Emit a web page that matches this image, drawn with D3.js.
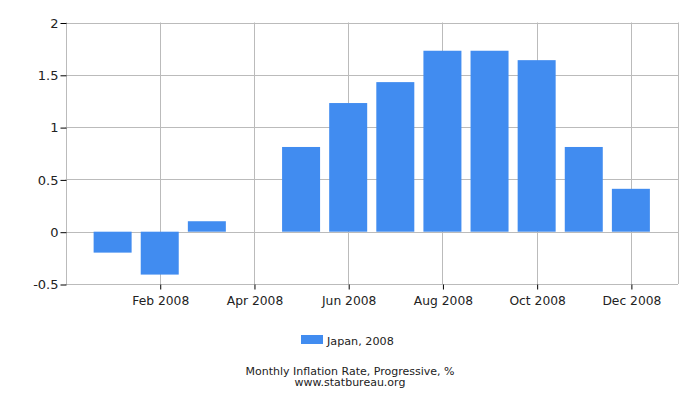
<html>
<head>
  <meta charset="utf-8">
  <script src="https://d3js.org/d3.v7.min.js"></script>
  <style>
    body { margin: 0; background: #fff; }
    text { font-family: "DejaVu Sans", Verdana, sans-serif; fill: #222; }
    .grid line { stroke: #bbb; stroke-width: 1; }
  </style>
</head>
<body>
  <svg id="chart" width="700" height="400"></svg>
  <script>
    const months = ["Jan", "Feb", "Mar", "Apr", "May", "Jun", "Jul", "Aug", "Sep", "Oct", "Nov", "Dec"];
    const values = [-0.2, -0.41, 0.1, 0, 0.81, 1.23, 1.43, 1.73, 1.73, 1.64, 0.81, 0.41];
    const yTicks = [-0.5, 0, 0.5, 1, 1.5, 2];
    const xTickMonths = [2, 4, 6, 8, 10, 12];
    const seriesName = "Japan, 2008";
    const title = "Monthly Inflation Rate, Progressive, %";
    const source = "www.statbureau.org";

    const svg = d3.select("svg#chart");
    const plotLeft = 65.5, plotRight = 678, plotTop = 22.5, plotBottom = 284;

    const xScale = d3.scaleLinear().domain([0, 13]).range([plotLeft, plotRight]);
    const yScale = d3.scaleLinear().domain([-0.5, 2]).range([plotBottom, plotTop]);
    const barWidth = 38;

    // gridlines
    const grid = svg.append("g").attr("class", "grid");
    grid.selectAll(".h").data(yTicks).enter().append("line")
      .attr("x1", plotLeft).attr("x2", plotRight)
      .attr("y1", d => Math.round(yScale(d)) + 0.5)
      .attr("y2", d => Math.round(yScale(d)) + 0.5);
    grid.selectAll(".v").data([0].concat(xTickMonths, [13])).enter().append("line")
      .attr("y1", plotTop).attr("y2", plotBottom)
      .attr("x1", d => Math.round(xScale(d)) + 0.5)
      .attr("x2", d => Math.round(xScale(d)) + 0.5);

    // bars
    svg.append("g").selectAll("rect")
      .data(values)
      .enter().append("rect")
      .attr("x", (d, i) => xScale(i + 1) - barWidth / 2)
      .attr("width", barWidth)
      .attr("y", d => yScale(Math.max(0, d)))
      .attr("height", d => Math.abs(yScale(d) - yScale(0)))
      .attr("fill", "#418cf0");

    // y axis ticks and labels
    const yAxis = d3.axisLeft(yScale).tickValues(yTicks).tickSize(6).tickPadding(2)
      .tickFormat(d => String(d));
    svg.append("g")
      .attr("transform", `translate(${Math.round(plotLeft) + 0.5},0.5)`)
      .call(yAxis)
      .call(g => g.select(".domain").remove())
      .call(g => g.selectAll("text").style("font-size", "13px").attr("fill", "#222"))
      .call(g => g.selectAll("line").attr("stroke", "#000"));

    // x axis ticks and labels
    const xAxis = d3.axisBottom(xScale).tickValues(xTickMonths).tickSize(5).tickPadding(7)
      .tickFormat(d => `${months[d - 1]} 2008`);
    svg.append("g")
      .attr("transform", `translate(0.5,${Math.round(plotBottom) + 0.5})`)
      .call(xAxis)
      .call(g => g.select(".domain").remove())
      .call(g => g.selectAll("text").style("font-size", "12.3px").attr("fill", "#222"))
      .call(g => g.selectAll("line").attr("stroke", "#000"));

    // legend
    const legend = svg.append("g").attr("transform", "translate(301,335)");
    legend.append("rect").attr("width", 22).attr("height", 9).attr("fill", "#418cf0");
    legend.append("text").attr("x", 26).attr("y", 10).style("font-size", "11.2px").text(seriesName);

    // footer
    svg.append("text").attr("x", 350).attr("y", 374.5).attr("text-anchor", "middle")
      .style("font-size", "11px").text(title);
    svg.append("text").attr("x", 350).attr("y", 386).attr("text-anchor", "middle")
      .style("font-size", "11px").text(source);
  </script>
</body>
</html>
